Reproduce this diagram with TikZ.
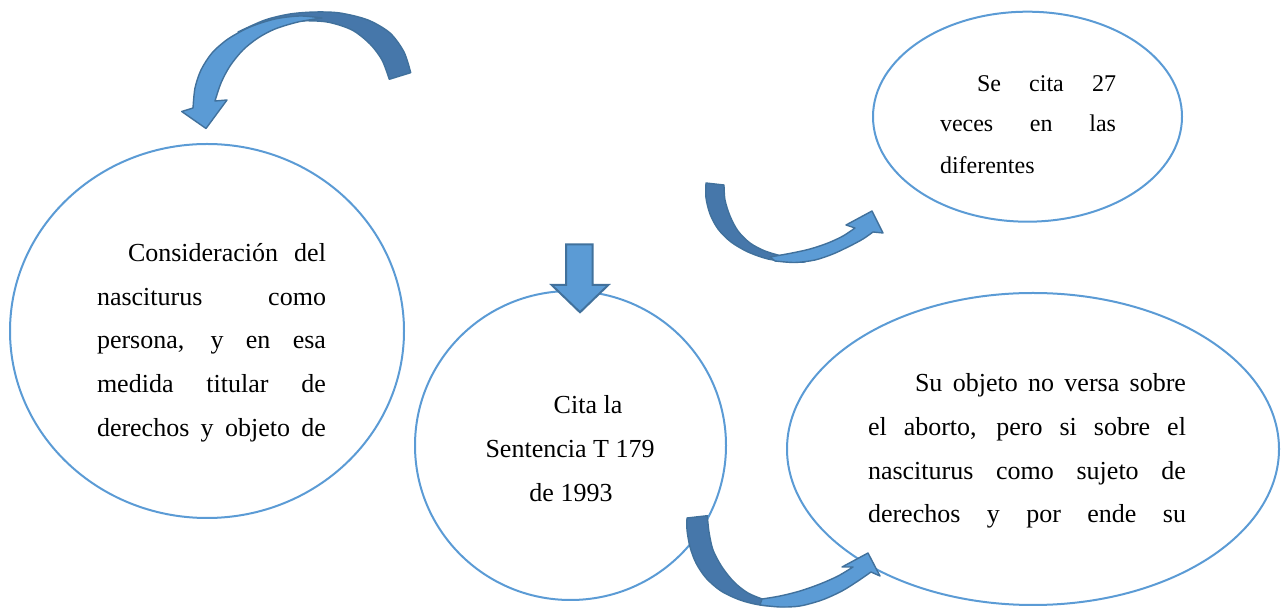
\documentclass[tikz,border=0pt]{standalone}
\usepackage{fontspec}
\setmainfont{Liberation Serif}
\usetikzlibrary{shapes.geometric}
\definecolor{ellblue}{HTML}{5B9BD5}
\definecolor{arrlight}{HTML}{5B9BD5}
\definecolor{arrdark}{HTML}{4677AA}
\definecolor{arrline}{HTML}{41719C}
\tikzset{
  bubble/.style={ellipse, draw=ellblue, line width=1pt, inner sep=0pt, outer sep=0pt},
  txt/.style={font=\fontsize{13}{16}\selectfont, inner sep=0pt, outer sep=0pt, anchor=base west},
  txts/.style={txt, font=\fontsize{12}{15}\selectfont},
  txtc/.style={txt, anchor=base},
  back/.style={fill=arrdark, draw=arrline, line width=0.7pt, line join=round},
  front/.style={fill=arrlight, draw=arrline, line width=0.7pt, line join=round},
  blockarrow/.style={fill=arrlight, draw=arrline, line width=1pt, line join=miter},
}
\newcommand{\jtext}[4][txt]{\node[#1] (#2) at #3 {#4};}
\begin{document}
\begin{tikzpicture}[x=0.5pt,y=-0.5pt]
\useasboundingbox (0,0) rectangle (1285,608);

% ellipses
\node[bubble, minimum width=197pt, minimum height=187pt] (eleft) at (207,331) {};
\node[bubble, minimum width=154.5pt, minimum height=105pt] (etop) at (1027.5,116.7) {};
\node[bubble, minimum width=155.5pt, minimum height=154.5pt] (emid) at (570.5,445.5) {};
\node[bubble, minimum width=246pt, minimum height=156pt] (eright) at (1033,449) {};

% left text
\jtext{l1}{(128,262)}{\makebox[99pt][s]{Consideración del}}
\jtext{l2}{(97,306)}{\makebox[114.5pt][s]{nasciturus como}}
\jtext{l3}{(97,349)}{\makebox[114.5pt][s]{persona, y en esa}}
\jtext{l4}{(97,393)}{\makebox[114.5pt][s]{medida titular de}}
\jtext{l5}{(97,437)}{\makebox[114.5pt][s]{derechos y objeto de}}

% top right text
\jtext[txts]{t1}{(977,92)}{\makebox[69.5pt][s]{Se cita 27}}
\jtext[txts]{t2}{(940,132)}{\makebox[88pt][s]{veces en las}}
\jtext[txts]{t3}{(940,174)}{diferentes}

% middle text
\jtext[txtc]{m1}{(588,414)}{Cita la}
\jtext[txtc]{m2}{(570,458)}{Sentencia T 179}
\jtext[txtc]{m3}{(571,502)}{de 1993}

% right text
\jtext{r1}{(915,392)}{\makebox[135.5pt][s]{Su objeto no versa sobre}}
\jtext{r2}{(868,436)}{\makebox[159pt][s]{el aborto, pero si sobre el}}
\jtext{r3}{(868,480)}{\makebox[159pt][s]{nasciturus como sujeto de}}
\jtext{r4}{(868,523)}{\makebox[159pt][s]{derechos y por ende su}}

% down block arrow
\draw[blockarrow] (566,244.3) -- (592.7,244.3) -- (592.7,285) -- (608.3,285)
  -- (580,312.3) -- (551.7,285) -- (566,285) -- cycle;

% curved arrow 1 (top left)
\draw[back] (410.7,72.7) -- plot[smooth] coordinates {(410.7,72.7) (404,52) (390,33) (368,20) (340,13) (315,12) (290,14) (265,20) (238,32)}
  -- plot[smooth] coordinates {(238,32) (268,25) (298,21) (327,22) (352,30) (370,44) (382,60) (389.3,79.3)} -- cycle;
\draw[front] (193,108) -- plot[smooth] coordinates {(193,108) (195,88) (201,70) (212,53) (228,39) (250,27) (275,19) (300,16) (322,18)}
  -- plot[smooth] coordinates {(322,18) (298,22) (275,29) (258,38) (243,50) (230,66) (221,83) (215,101)}
  -- (227,100) -- (206,128.5) -- (181.7,111.5) -- cycle;

% curved arrow 2 (middle right)
\draw[back] (706,183) -- plot[smooth] coordinates {(706,183) (706,198) (710,214) (718,229) (731,242) (748,252) (768,259) (790,262) (805,262)}
  -- plot[smooth] coordinates {(805,262) (785,257) (765,251) (750,243) (738,231) (730,216) (725,200) (724,185)} -- cycle;
\draw[front] (775,261) -- plot[smooth] coordinates {(775,261) (795,262.5) (815,260) (833,254) (850,246) (863,239) (873,232)}
  -- (883,233) -- (872,211) -- (846,225) -- (855,228)
  -- plot[smooth] coordinates {(855,228) (843,236) (828,243) (810,249) (792,253) (770,257)} -- cycle;

% curved arrow 3 (bottom)
\draw[back] (687,518) -- plot[smooth] coordinates {(687,518) (687,530) (690,547) (696,563) (706,578) (721,591) (740,600) (760,605) (785,606.5)}
  -- plot[smooth] coordinates {(785,606.5) (765,600) (748,593) (734,582) (722,567) (713,550) (709,532) (707.3,515.7)} -- cycle;
\draw[front] (760,605) -- plot[smooth] coordinates {(760,605) (780,607) (800,606) (822,600) (842,591) (858,581) (871,572)}
  -- (880,576) -- (868,553) -- (842,567) -- (853,567)
  -- plot[smooth] coordinates {(853,567) (838,576) (820,584) (800,591) (780,596) (762,599)} -- cycle;
\end{tikzpicture}
\end{document}
